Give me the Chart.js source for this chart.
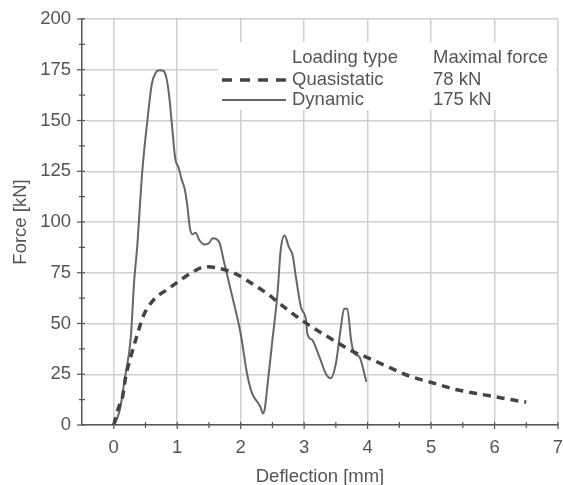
<!DOCTYPE html>
<html>
<head>
<meta charset="utf-8">
<script src="https://cdn.jsdelivr.net/npm/chart.js@4.4.1/dist/chart.umd.min.js"></script>
<style>
  body { margin: 0; background: #fff; }
  #wrap { width: 563px; height: 485px; }
</style>
</head>
<body>
<div id="wrap"><canvas id="chart" width="563" height="485"></canvas></div>
<script>
// values
const dynamicDeflection = [0, 0.05, 0.1, 0.17, 0.27, 0.32, 0.37, 0.45, 0.53, 0.6, 0.66, 0.72, 0.78, 0.83, 0.87, 0.92, 0.97, 1.02, 1.07, 1.12, 1.16, 1.2, 1.24, 1.29, 1.35, 1.43, 1.5, 1.56, 1.62, 1.67, 1.74, 1.87, 2.0, 2.1, 2.18, 2.26, 2.31, 2.35, 2.38, 2.42, 2.5, 2.58, 2.63, 2.69, 2.76, 2.82, 2.87, 2.95, 3.03, 3.05, 3.13, 3.21, 3.26, 3.34, 3.42, 3.5, 3.58, 3.63, 3.68, 3.74, 3.79, 3.87, 3.98];
const dynamicForce = [0, 3, 8, 22, 43.5, 70, 88, 125, 150, 168, 173.5, 174.8, 174.5, 171, 163, 147, 131, 127, 121, 116, 108, 97, 94, 94.7, 91, 88.9, 89.5, 92, 91.5, 89.5, 80, 63, 45, 25.4, 15.6, 11.5, 9, 5.7, 8, 18.8, 41.8, 64.7, 86, 93.4, 87.6, 83.5, 72.9, 58, 51.6, 45, 41.8, 36, 32, 25.4, 23, 30.3, 48.3, 57.3, 57.3, 41.8, 35.2, 33.6, 21.3];

const quasiDeflection = [0, 0.07, 0.14, 0.19, 0.27, 0.37, 0.47, 0.63, 0.83, 0.98, 1.21, 1.46, 1.69, 1.95, 2.21, 2.45, 2.55, 3.0, 3.46, 3.78, 3.97, 4.32, 4.66, 5.02, 5.39, 5.81, 6.02, 6.44, 6.5];
const quasiForce = [0, 8, 14, 24, 33.7, 44.4, 54, 61.7, 66.5, 69.8, 74.7, 78, 77, 74, 69, 64, 61.4, 50.8, 41.8, 36, 33.6, 28.7, 24.1, 20.8, 17.5, 15, 13.9, 11.5, 11.3];

const xTicks = [0, 1, 2, 3, 4, 5, 6, 7];
const yTicks = [0, 25, 50, 75, 100, 125, 150, 175, 200];

const legendHeader = ["Loading type", "Maximal force"];
const legendNames = ["Quasistatic", "Dynamic"];
const legendMax = ["78 kN", "175 kN"];

const textColor = "#555";
const fontFamily = "Liberation Sans, Arial, sans-serif";
const fontSize = 18.5;

const toPoints = (xs, ys) => xs.map((x, i) => ({ x: x, y: ys[i] }));

// small tick marks on the axes plus the table style legend
const extras = {
  id: "extras",
  afterDraw: (chart) => {
    const ctx = chart.ctx;
    const xs = chart.scales.x;
    const ys = chart.scales.y;
    const area = chart.chartArea;
    ctx.save();
    ctx.strokeStyle = "#555";
    ctx.lineWidth = 1.2;
    for (let v = 0; v <= 7; v += 0.5) {
      const px = xs.getPixelForValue(v);
      const big = Number.isInteger(v) ? 4 : 3;
      ctx.beginPath();
      ctx.moveTo(px, area.bottom - 3);
      ctx.lineTo(px, area.bottom + big);
      ctx.stroke();
    }
    for (let v = 0; v <= 200; v += 12.5) {
      const py = ys.getPixelForValue(v);
      const big = v % 25 === 0 ? 5 : 3;
      ctx.beginPath();
      ctx.moveTo(area.left - big, py);
      ctx.lineTo(area.left + 3, py);
      ctx.stroke();
    }

    // legend
    ctx.fillStyle = "#fff";
    ctx.fillRect(218, 42, 338, 68);
    ctx.font = fontSize + "px " + fontFamily;
    ctx.fillStyle = textColor;
    ctx.textBaseline = "middle";
    ctx.fillText(legendHeader[0], 292, 58);
    ctx.fillText(legendHeader[1], 433, 58);
    const rows = [80, 100];
    rows.forEach((y, i) => {
      ctx.fillText(legendNames[i], 292, y);
      ctx.fillText(legendMax[i], 433, y);
    });
    ctx.strokeStyle = "#444";
    ctx.lineWidth = 3.5;
    ctx.setLineDash([10, 8]);
    ctx.beginPath();
    ctx.moveTo(222, rows[0]);
    ctx.lineTo(286, rows[0]);
    ctx.stroke();
    ctx.setLineDash([]);
    ctx.strokeStyle = "#666";
    ctx.lineWidth = 2;
    ctx.beginPath();
    ctx.moveTo(222, rows[1]);
    ctx.lineTo(286, rows[1]);
    ctx.stroke();
    ctx.restore();
  }
};

const ctx = document.getElementById("chart").getContext("2d");
new Chart(ctx, {
  type: "line",
  data: {
    datasets: [
      {
        label: "Quasistatic",
        data: toPoints(quasiDeflection, quasiForce),
        borderColor: "#444",
        borderWidth: 3.5,
        borderDash: [8, 6],
        pointRadius: 0,
        cubicInterpolationMode: "monotone",
        fill: false
      },
      {
        label: "Dynamic",
        data: toPoints(dynamicDeflection, dynamicForce),
        borderColor: "#666",
        borderWidth: 2,
        pointRadius: 0,
        cubicInterpolationMode: "monotone",
        fill: false
      }
    ]
  },
  options: {
    responsive: false,
    animation: false,
    layout: { padding: { left: 10, right: 5, top: 19, bottom: 0 } },
    plugins: {
      legend: { display: false },
      tooltip: { enabled: false }
    },
    scales: {
      x: {
        type: "linear",
        min: -0.5,
        max: 7,
        afterBuildTicks: (scale) => { scale.ticks = xTicks.map(v => ({ value: v })); },
        afterFit: (scale) => {
          scale.height = 60;
          scale.paddingLeft = 0;
          scale.paddingRight = 0;
        },
        grid: { color: "#cfcfcf", lineWidth: 1.5, drawTicks: false },
        border: { display: true, color: "#555", width: 1.5 },
        ticks: { color: textColor, padding: 12, font: { family: fontFamily, size: fontSize }, maxRotation: 0 },
        title: { display: true, text: "Deflection [mm]", color: textColor, font: { family: fontFamily, size: fontSize }, padding: { top: 0, bottom: -3 } }
      },
      y: {
        type: "linear",
        min: 0,
        max: 200,
        afterBuildTicks: (scale) => { scale.ticks = yTicks.map(v => ({ value: v })); },
        afterFit: (scale) => {
          scale.width = 72;
          scale.paddingTop = 0;
          scale.paddingBottom = 0;
        },
        grid: { color: "#cfcfcf", lineWidth: 1.5, drawTicks: false },
        border: { display: true, color: "#555", width: 1.5 },
        ticks: { color: textColor, padding: 11, font: { family: fontFamily, size: fontSize } },
        title: { display: true, text: "Force [kN]", color: textColor, font: { family: fontFamily, size: fontSize }, padding: { top: 0, bottom: 0 } }
      }
    }
  },
  plugins: [extras]
});
</script>
</body>
</html>
